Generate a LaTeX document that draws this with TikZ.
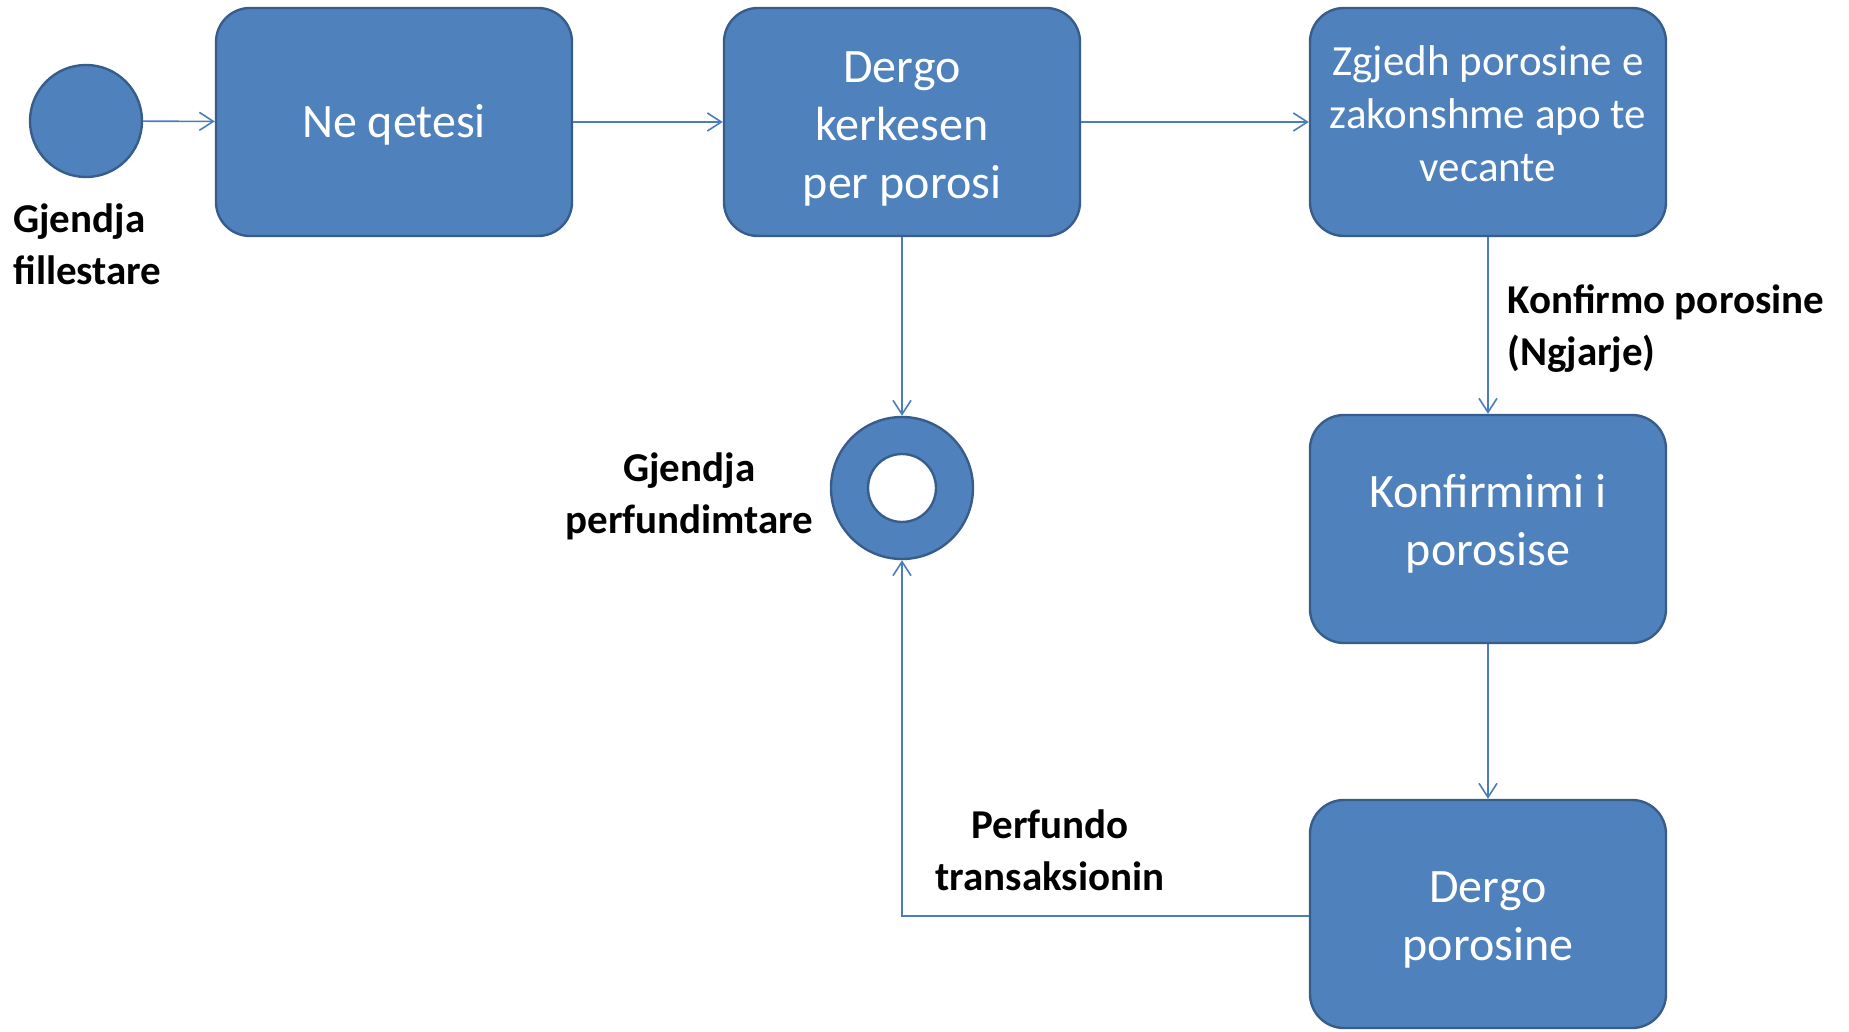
\documentclass[tikz,border=0pt]{standalone}
\usepackage{fontspec}
\setmainfont{Carlito}
\usetikzlibrary{positioning}
\usetikzlibrary{arrows.meta}
\definecolor{boxblue}{HTML}{4F81BD}
\definecolor{boxedge}{HTML}{385D8A}
\definecolor{linkblue}{HTML}{4A7EBB}
\tikzset{>={Straight Barb[length=7pt,width=9pt]}}
\tikzset{st/.style={draw=boxedge, line width=1.2pt, fill=boxblue, rounded corners=17pt, minimum width=178pt, minimum height=114pt, inner sep=0pt, align=center, text=white, text depth=0pt, text height=#1, font=\fontsize{24pt}{29pt}\selectfont}}
\tikzset{dot/.style={draw=boxedge, line width=1.2pt, fill=boxblue, circle, inner sep=0pt}}
\tikzset{lbl/.style={inner sep=0pt, font=\bfseries\fontsize{20.5pt}{26pt}\selectfont}}
\tikzset{tr/.style={draw=linkblue, line width=0.8pt, ->}}

\begin{document}
\begin{tikzpicture}[x=0.5pt, y=-0.5pt]
\useasboundingbox (0,0) rectangle (1849,1032);

\node (init) [dot, minimum size=56pt] at (86, 121) {};
\node (idle) [st=15.6pt] at (394, 122) {Ne qetesi};
\node (req) [st=77pt] at (902, 122) {Dergo\\kerkesen\\per porosi};
\node (pick) [st=59.2pt, font=\fontsize{21.5pt}{26.3pt}\selectfont] at (1488, 122) {Zgjedh porosine e\\zakonshme apo te\\vecante};
\node (conf) [st=36.6pt] at (1488, 529) {Konfirmimi i\\porosise};
\node (send) [st=46.6pt] at (1488, 914) {Dergo\\porosine};

% final state
\node (fin) [dot, minimum size=71pt] at (902, 488) {};
\node (finhole) [dot, fill=white, minimum size=34pt] at (fin) {};

\node (initlbl) [lbl, align=left, anchor=west] at (13, 244) {Gjendja\\fillestare};
\node (finlbl) [lbl, align=center, left=8pt of fin, yshift=-4pt] {Gjendja\\perfundimtare};
\node (evlbl) [lbl, align=left, anchor=west] at (1507, 329) {Konfirmo porosine\\(Ngjarje)};
\node (endlbl) [lbl, align=center] at (1050, 850) {Perfundo\\transaksionin};

\draw[tr] (init) -- (idle);
\draw[tr] (idle) -- (req);
\draw[tr] (req) -- (pick);
\draw[tr] (req) -- (fin);
\draw[tr] (pick) -- (conf);
\draw[tr] (conf) -- (send);
\draw[tr] ([yshift=-1pt]send.west) -| (fin.south);
\end{tikzpicture}
\end{document}
